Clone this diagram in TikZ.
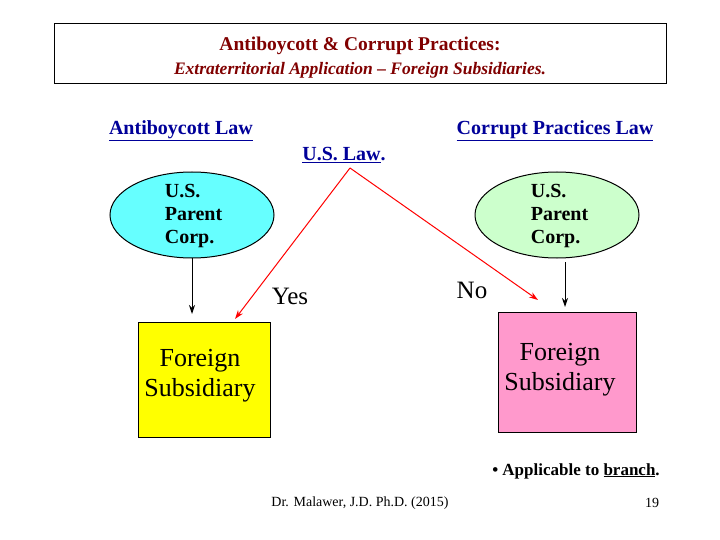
\documentclass[tikz,border=0pt]{standalone}
\usepackage{fontspec}
\setmainfont{Liberation Serif}
\usetikzlibrary{arrows.meta,shapes.geometric}
\definecolor{dred}{RGB}{128,0,0}
\definecolor{lblue}{RGB}{0,0,153}
\definecolor{cyanf}{RGB}{102,255,255}
\definecolor{greenf}{RGB}{204,255,204}
\definecolor{pinkf}{RGB}{255,153,204}
\definecolor{yellowf}{RGB}{255,255,0}
\begin{document}
\begin{tikzpicture}[x=1pt,y=-1pt,line width=1pt,
  lbl/.style={text=lblue,font=\fontsize{20}{22}\selectfont\bfseries},
  ell/.style={draw,ellipse,minimum width=164,minimum height=86,inner sep=0pt},
  box/.style={draw,rectangle},
  big/.style={font=\fontsize{26}{30}\selectfont,align=center},
  arr/.style={-{Stealth[length=9pt,width=6pt]}}]
\useasboundingbox (0,0) rectangle (720,540);
\node[draw,minimum width=612,minimum height=60,inner sep=0] (title) at (360,54) {};
\node[text=dred,font=\fontsize{19.5}{21}\selectfont\bfseries] (t1) at (360,46) {Antiboycott \& Corrupt Practices:};
\node[text=dred,font=\fontsize{17.5}{19}\selectfont\bfseries\itshape] (t2) at (360,70) {Extraterritorial Application -- Foreign Subsidiaries.};
\node[lbl] (ab) at (181,131) {\underline{Antiboycott Law}};
\node[lbl] (cp) at (555,131) {\underline{Corrupt Practices Law}};
\node[lbl] (us) at (344,155) {\underline{U.S. Law}.};
\node[ell,fill=cyanf] (e1) at (192,215) {};
\node[font=\fontsize{20}{23}\selectfont\bfseries,align=left,anchor=west] (e1t) at (161,216) {U.S.\\Parent\\Corp.};
\node[ell,fill=greenf] (e2) at (557,215) {};
\node[font=\fontsize{20}{23}\selectfont\bfseries,align=left,anchor=west] (e2t) at (527,216) {U.S.\\Parent\\Corp.};
\node[box,fill=yellowf,minimum width=132,minimum height=115] (b1) at (204,380) {};
\node[big] (b1t) at (200,376) {Foreign\\Subsidiary};
\node[box,fill=pinkf,minimum width=138,minimum height=120] (b2) at (567,372) {};
\node[big] (b2t) at (560,370) {Foreign\\Subsidiary};
\coordinate (top) at (350,168);
\coordinate (la) at (235,319);
\coordinate (ra) at (538,300);
\draw[red,arr] (top) -- (la);
\draw[red,arr] (top) -- (ra);
\coordinate (d1) at (192,258); \coordinate (d1e) at (192,314);
\coordinate (d2) at (565,262); \coordinate (d2e) at (565,307);
\draw[arr] (d1) -- (d1e);
\draw[arr] (d2) -- (d2e);
\node[font=\fontsize{25}{27}\selectfont] (yes) at (290,296) {Yes};
\node[font=\fontsize{25}{27}\selectfont] (no) at (472,290) {No};
\node[font=\fontsize{17}{19}\selectfont\bfseries] (app) at (576,471) {• Applicable to \underline{branch}.};
\node[font=\fontsize{14}{16}\selectfont] (dr) at (360,503) {Dr. Malawer, J.D. Ph.D. (2015)};
\node[font=\fontsize{14}{16}\selectfont] (pg) at (652,503) {19};
\end{tikzpicture}
\end{document}
